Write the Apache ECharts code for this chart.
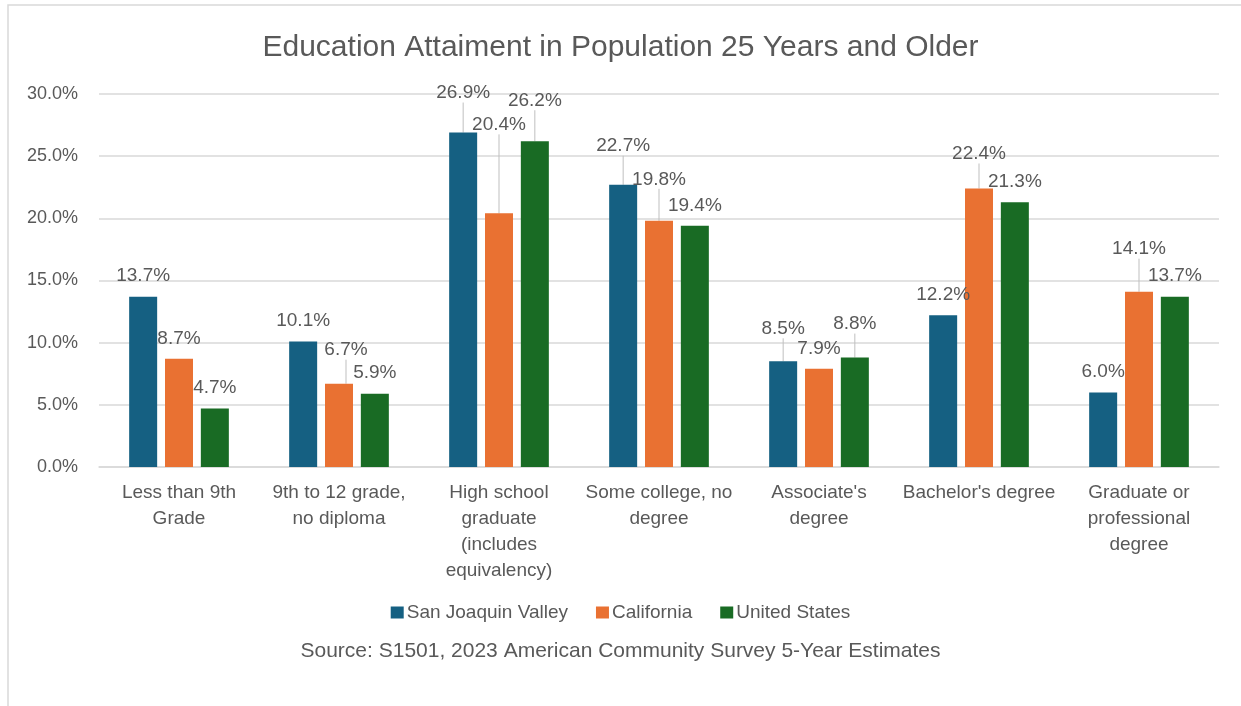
<!DOCTYPE html>
<html>
<head>
<meta charset="utf-8">
<title>Education Attainment</title>
<script src="https://cdn.jsdelivr.net/npm/echarts@6/dist/echarts.min.js"></script>
<style>
  html, body { margin: 0; padding: 0; background: #fff; }
  #chart { width: 1241px; height: 706px; }
</style>
</head>
<body>
<div id="chart"></div>
<script>
// categories (line breaks as shown on the axis)
const categories = [
  'Less than 9th\nGrade',
  '9th to 12 grade,\nno diploma',
  'High school\ngraduate\n(includes\nequivalency)',
  'Some college, no\ndegree',
  "Associate's\ndegree",
  "Bachelor's degree",
  'Graduate or\nprofessional\ndegree'
]
const seriesNames = ['San Joaquin Valley', 'California', 'United States']
const sjvValues = [13.7, 10.1, 26.9, 22.7, 8.5, 12.2, 6.0]
const caValues = [8.7, 6.7, 20.4, 19.8, 7.9, 22.4, 14.1]
const usValues = [4.7, 5.9, 26.2, 19.4, 8.8, 21.3, 13.7]
const yTicks = [0, 5, 10, 15, 20, 25, 30]

const colors = ['#156082', '#E97132', '#196B24']
const textColor = '#595959'
const fontFamily = '"Liberation Sans", Arial, sans-serif'

// labels that were dragged away from the bar in the original (series -> data index -> [dx, dy])
const labelShift = {
  0: { 2: [0, -19], 3: [0, -18], 4: [0, -12] },
  1: { 1: [7, -13], 2: [0, -68], 3: [0, -21], 5: [0, -14], 6: [0, -22] },
  2: { 2: [0, -20], 4: [0, -13] }
}

const chart = echarts.init(document.getElementById('chart'))

function makeSeries(name, values, idx) {
  const shifts = labelShift[idx] || {}
  return {
    name: name,
    type: 'bar',
    // leader line only where the label was moved
    data: values.map((v, i) => ({ value: v, labelLine: { show: !!shifts[i] } })),
    barWidth: 28,
    barGap: '28%',
    itemStyle: { color: colors[idx] },
    label: {
      show: true,
      position: 'top',
      distance: 11,
      color: textColor,
      fontSize: 19,
      fontFamily: fontFamily,
      formatter: p => p.value.toFixed(1) + '%'
    },
    labelLine: {
      show: true,
      lineStyle: { color: '#bfbfbf', width: 1 }
    },
    labelLayout: params => {
      const d = shifts[params.dataIndex]
      return d ? { dx: d[0], dy: d[1] } : {}
    }
  }
}

chart.setOption({
  backgroundColor: '#fff',
  animation: false,
  title: [
    {
      text: 'Education Attaiment in Population 25 Years and Older',
      left: 'center',
      top: 28,
      textStyle: { color: textColor, fontSize: 30, fontWeight: 'normal', fontFamily: fontFamily }
    },
    {
      text: 'Source: S1501, 2023 American Community Survey 5-Year Estimates',
      left: 'center',
      top: 636,
      textStyle: { color: textColor, fontSize: 21, fontWeight: 'normal', fontFamily: fontFamily }
    }
  ],
  legend: {
    data: seriesNames,
    left: 'center',
    top: 598,
    icon: 'rect',
    itemWidth: 13,
    itemHeight: 12,
    itemGap: 28,
    textStyle: { color: textColor, fontSize: 19, fontFamily: fontFamily, padding: [0, 0, 0, -2] }
  },
  grid: { left: 99, right: 22, top: 94, bottom: 239 },
  xAxis: {
    type: 'category',
    data: categories,
    axisTick: { show: false },
    axisLine: { lineStyle: { color: '#d9d9d9', width: 1.5 } },
    axisLabel: {
      color: textColor,
      fontSize: 19,
      fontFamily: fontFamily,
      lineHeight: 26,
      margin: 13,
      interval: 0
    }
  },
  yAxis: {
    type: 'value',
    min: yTicks[0],
    max: yTicks[yTicks.length - 1],
    interval: 5,
    axisLine: { show: false },
    axisTick: { show: false },
    splitLine: { lineStyle: { color: '#d9d9d9', width: 1.5 } },
    axisLabel: {
      color: textColor,
      fontSize: 18,
      fontFamily: fontFamily,
      margin: 21,
      formatter: v => v.toFixed(1) + '%'
    }
  },
  graphic: [
    {
      type: 'rect',
      shape: { x: 8, y: 5, width: 1250, height: 720 },
      style: { fill: 'none', stroke: '#d9d9d9', lineWidth: 1.5 },
      silent: true
    }
  ],
  series: [
    makeSeries(seriesNames[0], sjvValues, 0),
    makeSeries(seriesNames[1], caValues, 1),
    makeSeries(seriesNames[2], usValues, 2)
  ]
})
</script>
</body>
</html>
